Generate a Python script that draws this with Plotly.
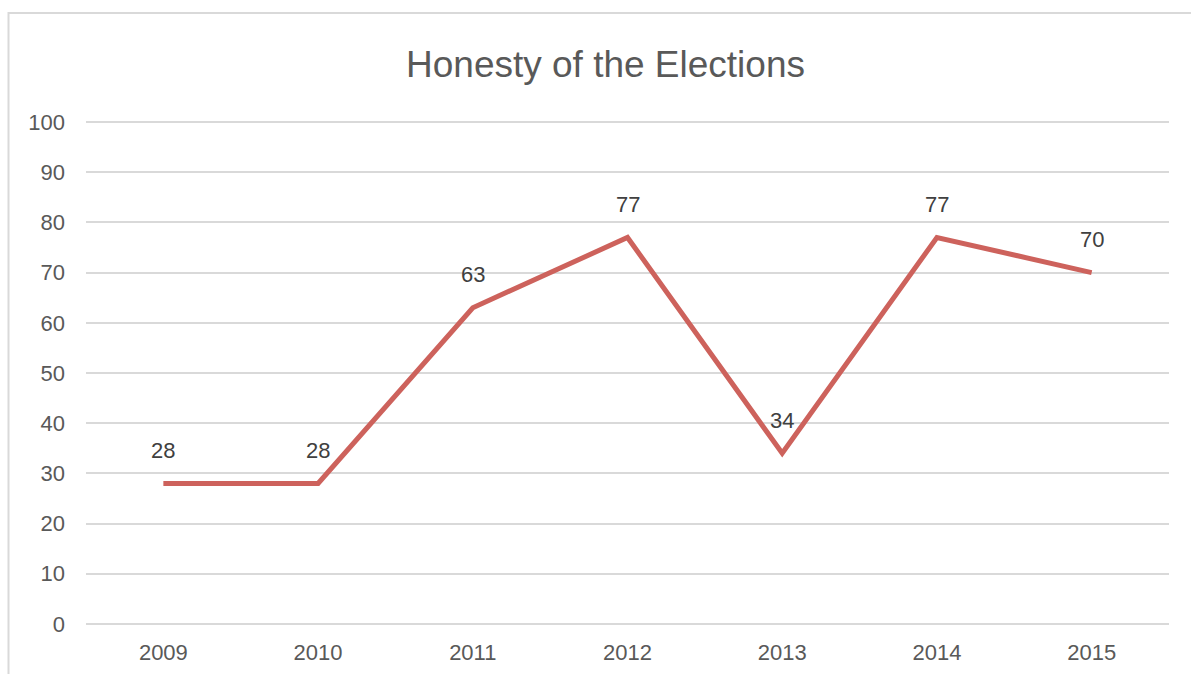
import plotly.graph_objects as go

years = ["2009", "2010", "2011", "2012", "2013", "2014", "2015"]
values = [28, 28, 63, 77, 34, 77, 70]
y_ticks = [0, 10, 20, 30, 40, 50, 60, 70, 80, 90, 100]
title_text = "Honesty of the Elections"

W, H = 1191, 674
L, R, T, B = 86, 22, 117, 45
pw, ph = W - L - R, H - T - B
x_idx = list(range(len(years)))

fig = go.Figure()
fig.add_trace(go.Scatter(
    x=x_idx, y=values, mode="lines",
    line=dict(color="#CD625C", width=5),
    hoverinfo="skip", showlegend=False,
))

annotations = []
for xv, yv in zip(x_idx, values):
    annotations.append(dict(
        x=xv, y=yv, xref="x", yref="y", text=str(yv), showarrow=False,
        yshift=33, font=dict(family="Liberation Sans, Arial", size=22, color="#404040"),
    ))
annotations.append(dict(
    x=(605 - L) / pw, y=(H - B - 64) / ph, xref="paper", yref="paper",
    text=title_text, showarrow=False, xanchor="center", yanchor="middle",
    font=dict(family="Liberation Sans, Arial", size=37, color="#595959"),
))

fig.update_layout(
    width=W, height=H,
    margin=dict(l=L, r=R, t=T, b=B, pad=0, autoexpand=False),
    paper_bgcolor="white", plot_bgcolor="white",
    annotations=annotations,
    shapes=[dict(
        type="rect", xref="paper", yref="paper",
        x0=(8.5 - L) / pw, x1=(W + 20 - L) / pw,
        y0=(H - B - (H + 20)) / ph, y1=(H - B - 13) / ph,
        line=dict(color="#D9D9D9", width=2), fillcolor="rgba(0,0,0,0)", layer="below",
    )],
    xaxis=dict(
        range=[-0.5, len(years) - 0.5], tickvals=x_idx, ticktext=years,
        showgrid=False, zeroline=False, showline=False, automargin=False,
        ticks="", tickfont=dict(family="Liberation Sans, Arial", size=22, color="#595959"),
        ticklabelstandoff=8,
    ),
    yaxis=dict(
        range=[-1, 101], tickvals=y_ticks, showgrid=True, gridcolor="#D9D9D9", gridwidth=1.5,
        zeroline=False, showline=False, ticks="", automargin=False,
        tickfont=dict(family="Liberation Sans, Arial", size=22, color="#595959"),
        ticklabelstandoff=20,
    ),
)

fig.write_html("out.html")
